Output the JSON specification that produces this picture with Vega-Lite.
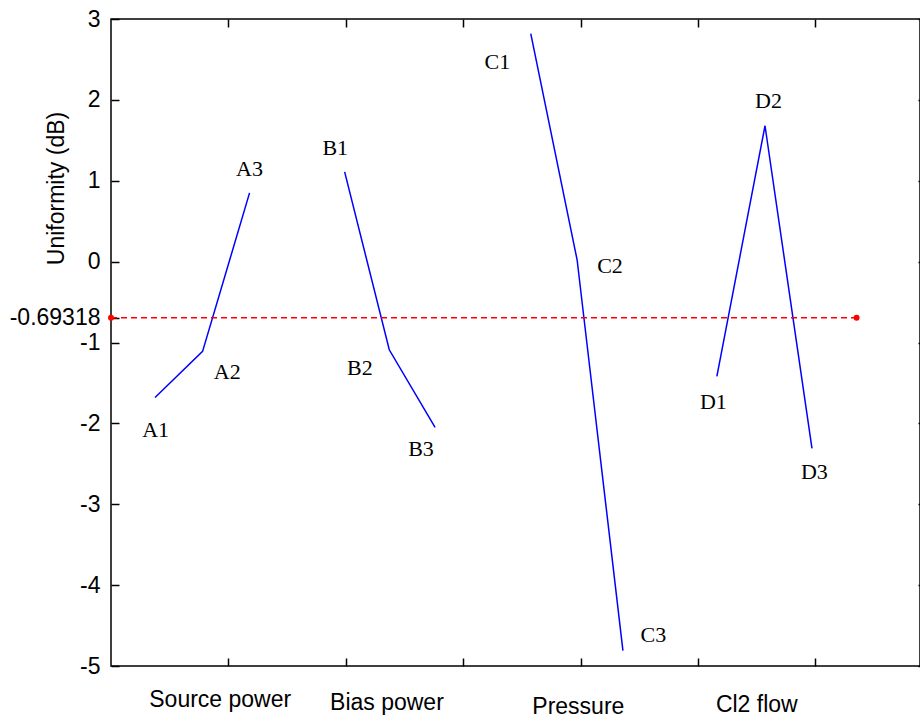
{
  "$schema": "https://vega.github.io/schema/vega-lite/v6.json",
  "width": 809,
  "height": 647,
  "autosize": "none",
  "padding": {"left": 111, "top": 19, "right": 0, "bottom": 56},
  "background": "white",
  "config": {
    "view": {"stroke": "black", "strokeWidth": 1.5},
    "axis": {
      "domain": false,
      "grid": false,
      "tickColor": "black",
      "tickWidth": 1.5,
      "labelColor": "black",
      "labelFont": "Liberation Sans",
      "labelFontSize": 23,
      "titleFont": "Liberation Sans",
      "titleFontSize": 23,
      "titleFontWeight": "normal",
      "titleColor": "black"
    }
  },
  "datasets": {
    "factors": [
      {"factor": "A", "level": "A1", "x": 0.375, "y": -1.68},
      {"factor": "A", "level": "A2", "x": 0.78, "y": -1.11},
      {"factor": "A", "level": "A3", "x": 1.18, "y": 0.85},
      {"factor": "B", "level": "B1", "x": 1.99, "y": 1.11},
      {"factor": "B", "level": "B2", "x": 2.37, "y": -1.09},
      {"factor": "B", "level": "B3", "x": 2.76, "y": -2.05},
      {"factor": "C", "level": "C1", "x": 3.575, "y": 2.82},
      {"factor": "C", "level": "C2", "x": 3.97, "y": 0.02},
      {"factor": "C", "level": "C3", "x": 4.36, "y": -4.81},
      {"factor": "D", "level": "D1", "x": 5.16, "y": -1.42},
      {"factor": "D", "level": "D2", "x": 5.57, "y": 1.68},
      {"factor": "D", "level": "D3", "x": 5.97, "y": -2.31}
    ],
    "mean": [
      {"x": 0, "y": -0.69318},
      {"x": 6.35, "y": -0.69318}
    ],
    "labels": [
      {"label": "A1", "lx": 0.38, "ly": -2.08},
      {"label": "A2", "lx": 0.99, "ly": -1.36},
      {"label": "A3", "lx": 1.18, "ly": 1.15},
      {"label": "B1", "lx": 1.91, "ly": 1.40},
      {"label": "B2", "lx": 2.12, "ly": -1.31},
      {"label": "B3", "lx": 2.64, "ly": -2.32},
      {"label": "C1", "lx": 3.29, "ly": 2.47},
      {"label": "C2", "lx": 4.25, "ly": -0.05},
      {"label": "C3", "lx": 4.62, "ly": -4.62},
      {"label": "D1", "lx": 5.13, "ly": -1.73},
      {"label": "D2", "lx": 5.60, "ly": 1.99},
      {"label": "D3", "lx": 5.99, "ly": -2.60}
    ],
    "cats": [
      {"name": "Source power", "cx": 0.93, "cy": -5.51},
      {"name": "Bias power", "cx": 2.35, "cy": -5.55},
      {"name": "Pressure", "cx": 3.98, "cy": -5.59},
      {"name": "Cl2 flow", "cx": 5.50, "cy": -5.57}
    ]
  },
  "layer": [
    {
      "data": {"name": "factors"},
      "mark": {"type": "line", "color": "#0000ff", "strokeWidth": 1.5},
      "encoding": {
        "x": {
          "field": "x", "type": "quantitative",
          "scale": {"domain": [0, 6.89], "nice": false, "zero": false},
          "axis": {"orient": "bottom", "values": [1, 2, 3, 4, 5, 6], "labels": false, "tickSize": -8, "title": null}
        },
        "y": {
          "field": "y", "type": "quantitative",
          "scale": {"domain": [-5, 3], "nice": false, "zero": false},
          "axis": {
            "orient": "left",
            "values": [-5, -4, -3, -2, -1, -0.69318, 0, 1, 2, 3],
            "labelExpr": "'' + datum.value",
            "tickSize": -8,
            "labelPadding": 19,
            "title": "Uniformity (dB)",
            "titleX": -48,
            "titleY": 169,
            "titleAngle": -90,
            "titleBaseline": "alphabetic",
            "titleAlign": "center"
          }
        },
        "detail": {"field": "factor"}
      }
    },
    {
      "data": {"name": "mean"},
      "mark": {"type": "line", "color": "#ff0000", "strokeDash": [6, 4], "strokeWidth": 1.5},
      "encoding": {
        "x": {"field": "x", "type": "quantitative",
          "axis": {"orient": "top", "values": [1, 2, 3, 4, 5, 6], "labels": false, "tickSize": -8, "title": null}},
        "y": {"field": "y", "type": "quantitative",
          "axis": {"orient": "right", "values": [-5, -4, -3, -2, -1, 0, 1, 2, 3], "labels": false, "tickSize": -2, "title": null}}
      }
    },
    {
      "data": {"name": "mean"},
      "mark": {"type": "circle", "color": "#ff0000", "size": 36, "opacity": 1},
      "encoding": {
        "x": {"field": "x", "type": "quantitative", "axis": null},
        "y": {"field": "y", "type": "quantitative", "axis": null}
      }
    },
    {
      "data": {"name": "labels"},
      "mark": {"type": "text", "font": "Liberation Serif", "fontSize": 22, "baseline": "middle", "align": "center", "color": "black"},
      "encoding": {
        "x": {"field": "lx", "type": "quantitative", "axis": null},
        "y": {"field": "ly", "type": "quantitative", "axis": null},
        "text": {"field": "label"}
      }
    },
    {
      "data": {"name": "cats"},
      "mark": {"type": "text", "font": "Liberation Sans", "fontSize": 23, "baseline": "alphabetic", "align": "center", "color": "black"},
      "encoding": {
        "x": {"field": "cx", "type": "quantitative", "axis": null},
        "y": {"field": "cy", "type": "quantitative", "axis": null},
        "text": {"field": "name"}
      }
    }
  ],
  "resolve": {"axis": {"x": "independent", "y": "independent"}}
}
